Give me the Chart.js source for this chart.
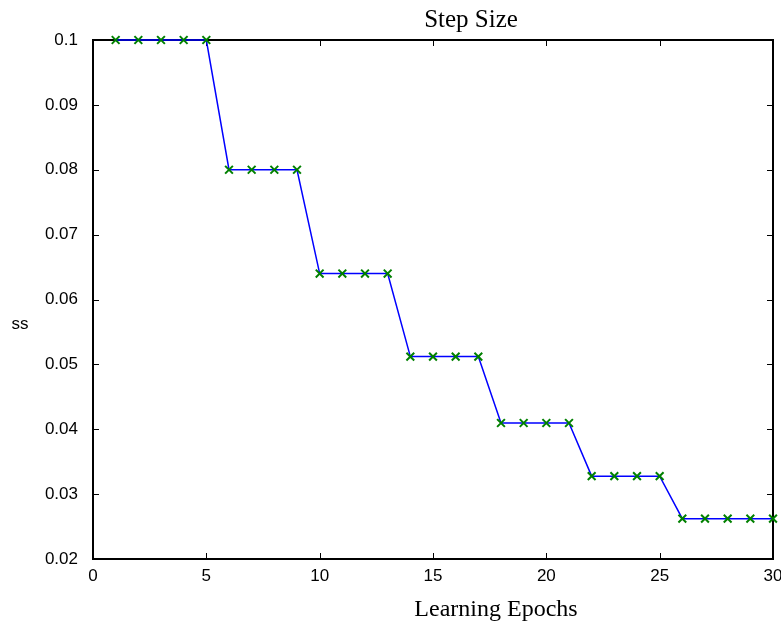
<!DOCTYPE html>
<html>
<head>
<meta charset="utf-8">
<script src="https://cdn.jsdelivr.net/npm/chart.js@4/dist/chart.umd.min.js"></script>
<style>
  html, body { margin: 0; padding: 0; background: #fff; }
  canvas { display: block; }
</style>
</head>
<body>
<canvas id="grafico" width="781" height="622"></canvas>
<script>
// Dados do gráfico
const epochs = [1, 2, 3, 4, 5, 6, 7, 8, 9, 10, 11, 12, 13, 14, 15,
                16, 17, 18, 19, 20, 21, 22, 23, 24, 25, 26, 27, 28, 29, 30];
const stepSize = [0.1, 0.1, 0.1, 0.1, 0.1,
                  0.08, 0.08, 0.08, 0.08,
                  0.064, 0.064, 0.064, 0.064,
                  0.0512, 0.0512, 0.0512, 0.0512,
                  0.04096, 0.04096, 0.04096, 0.04096,
                  0.032768, 0.032768, 0.032768, 0.032768,
                  0.0262144, 0.0262144, 0.0262144, 0.0262144, 0.0262144];
const xTicks = [0, 5, 10, 15, 20, 25, 30];
const yTicks = [0.02, 0.03, 0.04, 0.05, 0.06, 0.07, 0.08, 0.09, 0.1];
const chartTitle = 'Step Size';
const xTitle = 'Learning Epochs';
const yTitle = 'ss';

// Moldura com marcas de escala para dentro (estilo gnuplot) e os textos
const molduraPlugin = {
    id: 'moldura',
    beforeDatasetsDraw(chart) {
        const ctx = chart.ctx;
        const a = chart.chartArea;
        const sx = chart.scales.x;
        const sy = chart.scales.y;
        ctx.save();
        ctx.strokeStyle = '#000';
        ctx.lineWidth = 1;
        ctx.beginPath();
        xTicks.forEach(function(v) {
            const px = Math.round(sx.getPixelForValue(v)) + 0.5;
            ctx.moveTo(px, a.bottom); ctx.lineTo(px, a.bottom - 6);
            ctx.moveTo(px, a.top); ctx.lineTo(px, a.top + 6);
        });
        yTicks.forEach(function(v) {
            const py = Math.round(sy.getPixelForValue(v)) + 0.5;
            ctx.moveTo(a.left, py); ctx.lineTo(a.left + 6, py);
            ctx.moveTo(a.right, py); ctx.lineTo(a.right - 6, py);
        });
        ctx.stroke();
        ctx.lineWidth = 2;
        ctx.strokeRect(a.left, a.top, a.right - a.left, a.bottom - a.top);
        ctx.restore();
    },
    afterDraw(chart) {
        const ctx = chart.ctx;
        ctx.save();
        ctx.fillStyle = '#000';
        ctx.textAlign = 'center';
        ctx.textBaseline = 'alphabetic';
        ctx.font = '25px "Liberation Serif", "Times New Roman", serif';
        ctx.fillText(chartTitle, 471, 27);
        ctx.font = '24px "Liberation Serif", "Times New Roman", serif';
        ctx.fillText(xTitle, 496, 616);
        ctx.font = '17px "Liberation Sans", Arial, sans-serif';
        ctx.textBaseline = 'middle';
        ctx.fillText(yTitle, 20, 324);
        ctx.restore();
    }
};

const ctx = document.getElementById('grafico').getContext('2d');
new Chart(ctx, {
    type: 'line',
    data: {
        labels: epochs,
        datasets: [{
            label: yTitle,
            data: epochs.map(function(e, i) { return { x: e, y: stepSize[i] }; }),
            borderColor: 'rgb(0, 0, 255)',
            borderWidth: 1.5,
            tension: 0,
            fill: false,
            pointStyle: 'crossRot',
            pointRadius: 5.5,
            pointBorderColor: 'rgb(0, 128, 0)',
            pointBackgroundColor: 'rgb(0, 128, 0)',
            pointBorderWidth: 2,
            clip: 10
        }]
    },
    options: {
        responsive: false,
        animation: false,
        layout: { padding: { top: 40, right: 8, left: 0, bottom: 0 } },
        plugins: {
            legend: { display: false },
            tooltip: { enabled: false }
        },
        scales: {
            x: {
                type: 'linear',
                min: 0,
                max: 30,
                grid: { display: false, drawTicks: false },
                border: { display: false },
                afterBuildTicks: function(scale) {
                    scale.ticks = xTicks.map(function(v) { return { value: v }; });
                },
                afterFit: function(scale) {
                    scale.height = 63;
                    scale.paddingLeft = 0;
                    scale.paddingRight = 0;
                },
                ticks: {
                    padding: 7,
                    maxRotation: 0,
                    color: '#000',
                    font: { family: '"Liberation Sans", Arial, sans-serif', size: 17 }
                }
            },
            y: {
                type: 'linear',
                min: 0.02,
                max: 0.1,
                grid: { display: false, drawTicks: false },
                border: { display: false },
                afterBuildTicks: function(scale) {
                    scale.ticks = yTicks.map(function(v) { return { value: v }; });
                },
                afterFit: function(scale) {
                    scale.width = 93;
                    scale.paddingTop = 0;
                    scale.paddingBottom = 0;
                },
                ticks: {
                    padding: 15,
                    color: '#000',
                    font: { family: '"Liberation Sans", Arial, sans-serif', size: 17 },
                    callback: function(value) {
                        return String(+value.toFixed(2));
                    }
                }
            }
        }
    },
    plugins: [molduraPlugin]
});
</script>
</body>
</html>
